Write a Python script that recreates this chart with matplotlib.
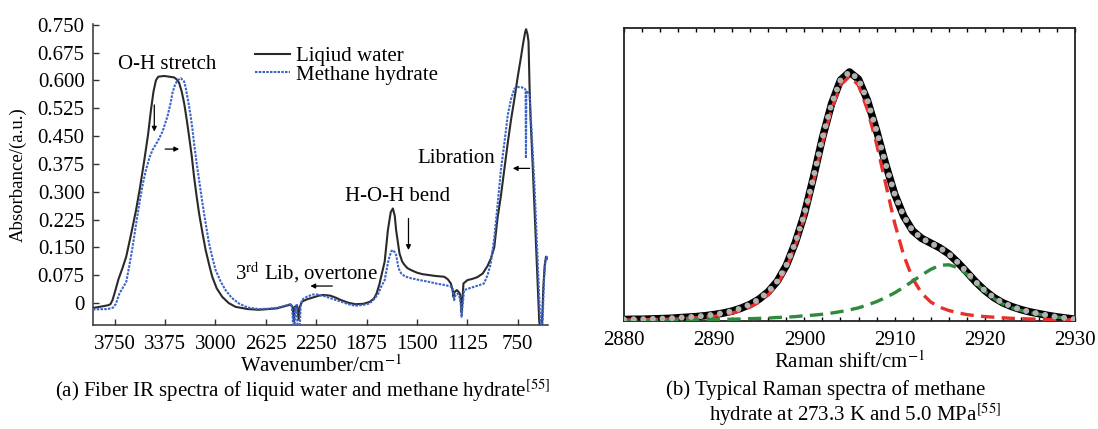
import numpy as np
import matplotlib
matplotlib.use("Agg")
import matplotlib.pyplot as plt
from matplotlib.ticker import MultipleLocator

plt.rcParams['font.family'] = ['Liberation Serif', 'DejaVu Serif']
plt.rcParams['mathtext.fontset'] = 'stix'
plt.rcParams['font.size'] = 15

# (a) fiber IR absorbance, wavenumber in cm-1 (descending)
water_wn = [3910, 3860, 3800, 3780, 3765, 3750, 3720, 3690, 3663, 3630, 3590, 3560, 3528, 3500,
            3479, 3460, 3442, 3425, 3380, 3340, 3306, 3285, 3269, 3250, 3232, 3213, 3195, 3175,
            3158, 3140, 3121, 3095, 3072, 3045, 3023, 2990, 2949, 2900, 2850, 2760, 2677, 2600,
            2540, 2470, 2440, 2425, 2415, 2408, 2392, 2380, 2372, 2355, 2320, 2276, 2230, 2197,
            2144, 2100, 2064, 2010, 1959, 1900, 1853, 1820, 1800, 1780, 1761, 1740, 1716, 1695,
            1679, 1665, 1655, 1640, 1630, 1610, 1593, 1570, 1544, 1500, 1460, 1420, 1360, 1297,
            1270, 1248, 1235, 1228, 1220, 1203, 1185, 1178, 1172, 1168, 1163, 1154, 1124, 1090,
            1050, 1010, 975, 950, 925, 900, 875, 850, 825, 800, 775, 750, 725, 710, 695, 688,
            678, 670, 662, 655, 640, 625, 610, 600, 590, 580, 570, 560, 550, 540, 530]
water_abs = [-0.013, -0.010, -0.006, -0.003, 0.008, 0.026, 0.065, 0.095, 0.125, 0.180, 0.250, 0.312,
             0.386, 0.455, 0.520, 0.570, 0.600, 0.610, 0.612, 0.610, 0.608, 0.602, 0.593, 0.570,
             0.539, 0.495, 0.449, 0.395, 0.340, 0.290, 0.242, 0.188, 0.143, 0.102, 0.071, 0.040,
             0.017, 0.000, -0.010, -0.016, -0.018, -0.016, -0.014, -0.007, -0.004, -0.010, -0.050,
             -0.010, -0.006, -0.045, -0.010, 0.004, 0.010, 0.015, 0.020, 0.022, 0.020, 0.014,
             0.008, 0.001, -0.003, -0.002, 0.003, 0.012, 0.026, 0.050, 0.080, 0.112, 0.197, 0.245,
             0.255, 0.235, 0.197, 0.158, 0.134, 0.112, 0.103, 0.094, 0.089, 0.082, 0.078, 0.076,
             0.073, 0.071, 0.064, 0.053, 0.035, 0.017, 0.030, 0.035, 0.028, 0.022, 0.000, -0.025,
             0.000, 0.053, 0.062, 0.065, 0.070, 0.080, 0.100, 0.120, 0.150, 0.230, 0.290, 0.360,
             0.430, 0.494, 0.550, 0.610, 0.665, 0.700, 0.730, 0.738, 0.725, 0.705, 0.580, 0.500,
             0.380, 0.250, 0.120, 0.030, -0.050, -0.070, -0.060, 0.040, 0.100, 0.125, 0.120]

hydrate_wn = [3910, 3800, 3760, 3740, 3713, 3690, 3663, 3640, 3615, 3590, 3565, 3540, 3516, 3490,
              3467, 3430, 3393, 3356, 3335, 3319, 3300, 3282, 3257, 3232, 3220, 3208, 3195, 3183,
              3170, 3158, 3140, 3121, 3100, 3084, 3065, 3047, 3020, 2998, 2960, 2924, 2880, 2825,
              2760, 2677, 2600, 2530, 2460, 2435, 2425, 2420, 2412, 2405, 2395, 2385, 2374, 2366,
              2355, 2320, 2276, 2240, 2197, 2150, 2100, 2064, 2010, 1959, 1900, 1853, 1820, 1787,
              1765, 1740, 1728, 1715, 1704, 1690, 1679, 1667, 1655, 1645, 1637, 1617, 1590, 1544,
              1480, 1420, 1360, 1297, 1250, 1235, 1228, 1223, 1215, 1198, 1185, 1175, 1168, 1160,
              1149, 1110, 1075, 1040, 1001, 975, 952, 925, 900, 875, 850, 825, 800, 775, 750, 725,
              700, 692, 689, 686, 675, 662, 645, 625, 600, 585, 575, 565, 555, 545, 535, 530]
hydrate_abs = [-0.017, -0.016, -0.012, -0.002, 0.026, 0.040, 0.057, 0.100, 0.152, 0.212, 0.269,
               0.320, 0.359, 0.392, 0.413, 0.435, 0.462, 0.503, 0.535, 0.566, 0.588, 0.600, 0.606,
               0.597, 0.580, 0.556, 0.530, 0.503, 0.468, 0.430, 0.380, 0.332, 0.280, 0.242, 0.200,
               0.161, 0.120, 0.089, 0.058, 0.035, 0.015, -0.001, -0.012, -0.016, -0.015, -0.012,
               -0.005, -0.002, -0.030, -0.090, -0.090, -0.010, -0.005, -0.090, -0.090, -0.010,
               0.009, 0.017, 0.023, 0.023, 0.020, 0.014, 0.008, 0.004, -0.003, -0.007, -0.005,
               -0.001, 0.010, 0.026, 0.045, 0.062, 0.085, 0.110, 0.125, 0.140, 0.143, 0.138, 0.130,
               0.110, 0.094, 0.080, 0.072, 0.067, 0.062, 0.058, 0.053, 0.049, 0.045, 0.040, 0.020,
               0.008, 0.020, 0.026, 0.020, 0.000, -0.037, -0.005, 0.035, 0.040, 0.044, 0.048,
               0.053, 0.075, 0.105, 0.175, 0.265, 0.360, 0.430, 0.505, 0.550, 0.578, 0.582, 0.582,
               0.578, 0.575, 0.390, 0.572, 0.568, 0.561, 0.450, 0.313, 0.098, -0.030, -0.070,
               -0.050, 0.060, 0.110, 0.125, 0.120]

ir_ticks = [3750, 3375, 3000, 2625, 2250, 1875, 1500, 1125, 750]
abs_ticks = [0, 0.075, 0.150, 0.225, 0.300, 0.375, 0.450, 0.525, 0.600, 0.675, 0.750]
abs_labels = ['0', '0.075', '0.150', '0.225', '0.300', '0.375', '0.450', '0.525', '0.600',
              '0.675', '0.750']

# (b) Raman band of methane hydrate, 1 cm-1 steps
raman_shift = np.arange(2880, 2931)
raman_total = [0.005, 0.006, 0.006, 0.007, 0.008, 0.009, 0.011, 0.013, 0.015, 0.018, 0.022,
               0.027, 0.034, 0.044, 0.057, 0.075, 0.100, 0.136, 0.190, 0.268, 0.365, 0.490,
               0.625, 0.740, 0.822, 0.850, 0.825, 0.752, 0.650, 0.536, 0.434, 0.358, 0.308,
               0.282, 0.266, 0.250, 0.229, 0.200, 0.167, 0.133, 0.104, 0.080, 0.062, 0.049,
               0.039, 0.031, 0.025, 0.019, 0.014, 0.010, 0.006]
raman_peak1 = [0.003, 0.004, 0.004, 0.005, 0.005, 0.006, 0.007, 0.009, 0.011, 0.013, 0.016,
               0.021, 0.027, 0.036, 0.048, 0.065, 0.090, 0.125, 0.180, 0.258, 0.352, 0.475,
               0.608, 0.722, 0.805, 0.835, 0.805, 0.720, 0.605, 0.470, 0.335, 0.225, 0.145,
               0.095, 0.065, 0.047, 0.036, 0.028, 0.022, 0.018, 0.015, 0.013, 0.011, 0.009,
               0.008, 0.007, 0.006, 0.005, 0.005, 0.004, 0.004]
raman_peak2 = [0.001, 0.001, 0.001, 0.002, 0.002, 0.002, 0.003, 0.003, 0.004, 0.004, 0.005,
               0.006, 0.006, 0.007, 0.008, 0.009, 0.010, 0.012, 0.013, 0.015, 0.018, 0.020,
               0.023, 0.027, 0.032, 0.038, 0.045, 0.055, 0.066, 0.080, 0.096, 0.115, 0.136,
               0.157, 0.176, 0.190, 0.192, 0.182, 0.160, 0.130, 0.101, 0.077, 0.058, 0.045,
               0.036, 0.029, 0.023, 0.018, 0.013, 0.010, 0.006]

W, H = 1098, 429
fig = plt.figure(figsize=(W / 100, H / 100), dpi=100)
axa = fig.add_axes([93 / W, 1 - 325 / H, 455 / W, 301 / H])
axb = fig.add_axes([624 / W, 1 - 321 / H, 451 / W, 293 / H])

# ---------- panel (a) ----------
axa.plot(water_wn, water_abs, color='#2a2a2a', lw=1.5, label='Liqiud water', zorder=3)
axa.plot(hydrate_wn, hydrate_abs, color='#3c64c8', lw=1.5, ls=(0, (1.2, 0.6)),
         label='Methane hydrate', zorder=4)
axa.set_xlim(3910, 525)
axa.set_ylim(-0.059, 0.752)
axa.set_xticks(ir_ticks)
axa.set_yticks(abs_ticks, abs_labels)
for s in ['top', 'right']:
    axa.spines[s].set_visible(False)
for s in ['left', 'bottom']:
    axa.spines[s].set_color('#333333')
    axa.spines[s].set_linewidth(1.1)
axa.tick_params(direction='in', length=4, width=1, color='#333333')
axa.tick_params(axis='x', pad=7)
axa.tick_params(axis='y', pad=6)
axa.set_xlabel('Wavenumber/cm$^{-1}$', labelpad=1)
axa.set_ylabel('Absorbance/(a.u.)', fontsize=13.5, labelpad=8)

leg = axa.legend(loc='upper left', bbox_to_anchor=(0.355, 0.925), frameon=False,
                 handlelength=1.7, handletextpad=0.3, labelspacing=-0.05,
                 borderpad=0, borderaxespad=0)

axa.text(3359, 0.642, 'O-H stretch', ha='center', va='center')
axa.text(2857, 0.082, '3$^{\\mathrm{rd}}$ Lib, overtone', ha='left', va='center')
axa.text(1645, 0.287, 'H-O-H bend', ha='center', va='center')
axa.text(917, 0.39, 'Libration', ha='right', va='center')

arrow = dict(arrowstyle='-|>', color='black', lw=0.9, mutation_scale=7, shrinkA=0, shrinkB=0)
axa.annotate('', xy=(3454, 0.462), xytext=(3454, 0.534), arrowprops=arrow)
axa.annotate('', xy=(3269, 0.415), xytext=(3373, 0.415), arrowprops=arrow)
axa.annotate('', xy=(2293, 0.046), xytext=(2130, 0.046), arrowprops=arrow)
axa.annotate('', xy=(1563, 0.143), xytext=(1563, 0.228), arrowprops=arrow)
axa.annotate('', xy=(787, 0.363), xytext=(662, 0.363), arrowprops=arrow)

# ---------- panel (b) ----------
axb.plot(raman_shift, raman_total, color='black', lw=5.4, solid_capstyle='round', zorder=2)
axb.plot(raman_shift, raman_peak1, color='#e8302c', lw=2.4, ls=(0, (4, 2.2)), zorder=3)
axb.plot(raman_shift, raman_peak2, color='#2e8a3c', lw=2.4, ls=(0, (4, 2.2)), zorder=3)
axb.plot(raman_shift, raman_total, color='#b2b2b2', lw=4.3, ls=(0, (0.01, 1.6)),
         dash_capstyle='round', zorder=4)
axb.set_xlim(2880, 2930)
axb.set_ylim(0, 1.0)
axb.set_yticks([])
axb.set_xticks([2880, 2890, 2900, 2910, 2920, 2930])
axb.xaxis.set_minor_locator(MultipleLocator(2))
axb.tick_params(axis='x', which='both', direction='in', top=True, length=3, width=1, pad=7)
for s in axb.spines.values():
    s.set_color('#222222')
    s.set_linewidth(1.3)
axb.set_xlabel('Raman shift/cm$^{-1}$', labelpad=1)

# captions
fig.text(303 / W, 1 - 391 / H, '(a) Fiber IR spectra of liquid water and methane hydrate$^{[55]}$',
         ha='center', va='center')
fig.text(1001 / W, 1 - 404 / H,
         '(b) Typical Raman spectra of methane   \nhydrate at 273.3 K and 5.0 MPa$^{[55]}$',
         ha='right', va='center', multialignment='right', linespacing=1.05)

fig.savefig('out.png', dpi=100)
